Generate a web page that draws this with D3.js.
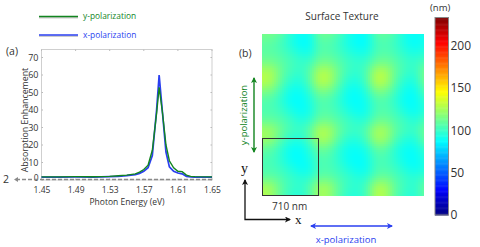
<!DOCTYPE html>
<html>
<head>
<meta charset="utf-8">
<style>
html, body { margin: 0; padding: 0; background: #fff; }
svg { display: block; }
text { font-family: "Open Sans", sans-serif; fill: #333; }
</style>
<script src="https://cdn.jsdelivr.net/npm/d3@7"></script>
</head>
<body>
<svg id="chart" width="480" height="247"></svg>
<script>
// Spectrum values
var energy = [1.45, 1.47, 1.49, 1.51, 1.53, 1.54, 1.55, 1.56, 1.565, 1.57, 1.575, 1.58, 1.585, 1.588, 1.592, 1.596, 1.60, 1.605, 1.61, 1.615, 1.62, 1.625, 1.63, 1.65];
var yPol = [1.8, 1.8, 1.9, 1.9, 2.1, 2.4, 2.8, 3.5, 4.5, 6, 8.5, 17, 38, 53, 38, 20, 11, 7, 5, 4.8, 2.8, 2.1, 1.9, 1.8];
var xPol = [1.6, 1.6, 1.7, 1.7, 1.9, 2.1, 2.5, 3.1, 3.8, 5, 7, 14, 40, 60, 38, 16, 7.5, 5, 4, 3.5, 2, 1.7, 1.6, 1.6];
var energyTicks = [1.45, 1.49, 1.53, 1.57, 1.61, 1.65];
var enhanceTicks = [0, 10, 20, 30, 40, 50, 60, 70];

// Surface height (nm), 18 x 18 samples, top row first
var texture = [
  [114, 114, 108,  96,  89,  90, 112, 112, 105,  94,  88,  89, 108, 110, 103,  92,  88,  92],
  [109, 108, 102,  94,  87,  87, 106, 106, 100,  92,  87,  87, 103, 105, 100,  92,  87,  91],
  [108, 108, 105, 100,  94,  92, 107, 107, 103,  97,  93,  93, 105, 107, 103,  97,  93,  97],
  [114, 114, 109, 104, 100, 101, 114, 114, 108, 102,  99, 101, 112, 114, 108, 102,  99, 105],
  [128, 127, 111, 102,  98, 107, 129, 128, 112, 101,  97, 106, 130, 128, 110, 101,  97, 114],
  [130, 127, 108,  97,  94, 106, 130, 128, 109,  96,  93, 105, 131, 128, 107,  95,  93, 112],
  [116, 114, 101,  90,  89,  98, 116, 114, 102,  90,  88,  97, 116, 114, 101,  90,  88, 104],
  [106, 105,  97,  88,  87,  93, 106, 105,  98,  89,  87,  92, 105, 105,  97,  88,  87,  97],
  [105, 105, 101,  93,  88,  91, 106, 106, 101,  94,  88,  91, 105, 106, 101,  92,  88,  95],
  [109, 109, 106, 101,  94,  97, 111, 111, 106, 101,  96,  97, 110, 111, 105, 101,  94, 103],
  [124, 123, 111, 103, 100, 108, 128, 126, 111, 103, 100, 107, 126, 124, 109, 102, 100, 111],
  [125, 122, 107,  97,  95, 106, 128, 125, 107,  97,  95, 105, 126, 123, 105,  96,  94, 110],
  [110, 108,  98,  89,  88,  96, 113, 110,  98,  90,  89,  94, 110, 108,  96,  89,  89,  98],
  [105, 104,  97,  88,  87,  93, 106, 105,  97,  89,  87,  91, 104, 104,  96,  89,  87,  95],
  [104, 104, 100,  94,  88,  89, 105, 104, 100,  93,  88,  89, 104, 104, 100,  93,  88,  93],
  [108, 109, 105, 100,  96,  96, 109, 109, 104, 100,  95,  96, 109, 111, 105, 100,  96, 101],
  [126, 124, 109, 101,  98, 106, 126, 124, 109, 100,  97, 105, 128, 126, 109, 101,  97, 110],
  [128, 124, 107,  98,  95, 104, 126, 123, 107,  97,  95, 103, 130, 126, 107,  98,  95, 108]
];

// Colour bar
var barTicks = [0, 50, 100, 150, 200];
var barMax = 233;
var jetStops = [0, 0.11, 0.125, 0.375, 0.625, 0.875, 1];
var jetColors = ["#00007f", "#0000e6", "#0000ff", "#00ffff", "#ffff00", "#ff0000", "#7f0000"];

var svg = d3.select("#chart");

// ---- panel (a)
var x = d3.scaleLinear().domain([1.45, 1.65]).range([41.5, 212]);
var y = d3.scaleLinear().domain([0, 70]).range([180, 57.5]);
var plotTop = 49.5;

var frame = svg.append("g");
frame.append("rect")
    .attr("x", x(1.45))
    .attr("y", plotTop)
    .attr("width", x(1.65) - x(1.45))
    .attr("height", y(0) - plotTop)
    .attr("fill", "none")
    .attr("stroke", "#cfcfcf");

var axisBottom = svg.append("g")
    .attr("transform", "translate(0," + y(0) + ")")
    .call(d3.axisBottom(x).tickValues(energyTicks).tickFormat(d3.format(".2f")).tickSize(0).tickPadding(6.5));
var axisLeft = svg.append("g")
    .attr("transform", "translate(" + x(1.45) + ",0)")
    .call(d3.axisLeft(y).tickValues(enhanceTicks).tickSize(0).tickPadding(3));
axisBottom.select(".domain").remove();
axisLeft.select(".domain").remove();
axisBottom.selectAll("text").style("font-size", "8.5px").attr("fill", "#333");
axisLeft.selectAll("text").style("font-size", "9px").attr("fill", "#333");
// the bottom label sits just above the x tick labels
axisLeft.selectAll("text").filter(d => d === 0).attr("dy", "0.1em").style("font-size", "8.5px");

// small inward ticks on all four sides of the frame
frame.selectAll(".tx").data(energyTicks).enter().append("path")
    .attr("d", d => "M" + x(d) + "," + plotTop + "v1.5M" + x(d) + "," + y(0) + "v-1.5")
    .attr("stroke", "#bbb");
frame.selectAll(".ty").data(enhanceTicks).enter().append("path")
    .attr("d", d => "M" + x(1.45) + "," + y(d) + "h1.5M" + x(1.65) + "," + y(d) + "h-1.5")
    .attr("stroke", "#bbb");

var line = d3.line().x((d, i) => x(energy[i])).y(d => y(d));

svg.append("path").datum(xPol)
    .attr("d", line)
    .attr("fill", "none")
    .attr("stroke", "#2a3ff0")
    .attr("stroke-width", 1.7);
svg.append("path").datum(yPol)
    .attr("d", line)
    .attr("fill", "none")
    .attr("stroke", "#12851f")
    .attr("stroke-width", 1.4);

// dashed marker for the value 2
svg.append("line")
    .attr("x1", 16).attr("x2", 212)
    .attr("y1", 179.5).attr("y2", 179.5)
    .attr("stroke", "#8a8a8a")
    .attr("stroke-width", 1.3)
    .attr("stroke-dasharray", "4 2");
svg.append("path")
    .attr("d", "M14,179.5l4,-2.5v5z")
    .attr("fill", "#8a8a8a");
svg.append("text").attr("x", 3).attr("y", 183).style("font-size", "10.5px").text("2");

svg.append("text")
    .attr("x", 127).attr("y", 204.5)
    .attr("text-anchor", "middle")
    .style("font-size", "8.5px")
    .text("Photon Energy (eV)");
svg.append("text")
    .attr("transform", "translate(27.5,120) rotate(-90)")
    .attr("text-anchor", "middle")
    .style("font-size", "8.8px")
    .text("Absorption Enhancement");
svg.append("text").attr("x", 6).attr("y", 55).style("font-size", "10.5px").text("(a)");

// legend
var legendItems = [
    {label: "y-polarization", color: "#12851f", y: 16.5},
    {label: "x-polarization", color: "#2a3ff0", y: 35}
];
var legend = svg.selectAll(".legend").data(legendItems).enter().append("g");
legend.append("line")
    .attr("x1", 39).attr("x2", 78)
    .attr("y1", d => d.y + 1.2).attr("y2", d => d.y + 1.2)
    .attr("stroke", "#ccc").attr("stroke-width", 1.5);
legend.append("line")
    .attr("x1", 39).attr("x2", 78)
    .attr("y1", d => d.y).attr("y2", d => d.y)
    .attr("stroke", d => d.color).attr("stroke-width", 1.5);
legend.append("text")
    .attr("x", 83).attr("y", d => d.y + 2.5)
    .style("font-size", "8.4px")
    .style("fill", d => d.color)
    .text(d => d.label);

// ---- panel (b)
var jet = d3.scaleLinear()
    .domain(jetStops.map(d => d * barMax))
    .range(jetColors)
    .clamp(true);

// smooth the samples with basis splines, along each row and then down the column
var rowSplines = texture.map(r => d3.interpolateBasis(r));
var step = 2;
var px = d3.scaleLinear().domain([0, 1]).range([262, 424]);
var py = d3.scaleLinear().domain([0, 1]).range([34, 196]);
var fine = [];
d3.range(0, 162, step).forEach(function(i) {
    var colSpline = d3.interpolateBasis(rowSplines.map(f => f((i + step / 2) / 162)));
    d3.range(0, 162, step).forEach(function(j) {
        fine.push({u: i / 162, v: j / 162, value: colSpline((j + step / 2) / 162)});
    });
});

svg.append("g").selectAll("rect").data(fine).enter().append("rect")
    .attr("x", d => px(d.u))
    .attr("y", d => py(d.v))
    .attr("width", step)
    .attr("height", step)
    .attr("shape-rendering", "crispEdges")
    .attr("fill", d => jet(d.value));

// unit cell box
svg.append("rect")
    .attr("x", 262.5).attr("y", 138.5)
    .attr("width", 56).attr("height", 57)
    .attr("fill", "none")
    .attr("stroke", "#333")
    .attr("stroke-width", 1);

svg.append("text")
    .attr("x", 342).attr("y", 19.5)
    .attr("text-anchor", "middle")
    .style("font-size", "10px")
    .text("Surface Texture");
svg.append("text").attr("x", 239).attr("y", 57).style("font-size", "10.5px").text("(b)");
svg.append("text").attr("x", 430).attr("y", 11).style("font-size", "9.5px").text("(nm)");

// colour bar
var cy = d3.scaleLinear().domain([0, barMax]).range([215, 17.5]);
svg.append("g").selectAll("rect").data(d3.range(0, barMax, 1)).enter().append("rect")
    .attr("x", 435)
    .attr("y", d => cy(d + 1))
    .attr("width", 13.5)
    .attr("height", cy(0) - cy(1) + 0.5)
    .attr("fill", d => jet(d + 0.5));
svg.append("rect")
    .attr("x", 435).attr("y", cy(barMax))
    .attr("width", 13.5).attr("height", cy(0) - cy(barMax))
    .attr("fill", "none")
    .attr("stroke", "#888");
var barAxis = svg.append("g")
    .attr("transform", "translate(448.5,0)")
    .call(d3.axisRight(cy).tickValues(barTicks).tickSize(0).tickPadding(2));
barAxis.select(".domain").remove();
barAxis.selectAll("text").style("font-size", "12px").attr("fill", "#333");

// arrows
var defs = svg.append("defs");
[["green-head", "#12851f"], ["blue-head", "#2a3ff0"], ["black-head", "#111"]].forEach(function(m) {
    defs.append("marker")
        .attr("id", m[0])
        .attr("viewBox", "0 0 6 6")
        .attr("refX", 5).attr("refY", 3)
        .attr("markerWidth", 6).attr("markerHeight", 6)
        .attr("markerUnits", "userSpaceOnUse")
        .attr("orient", "auto-start-reverse")
        .append("path")
            .attr("d", "M0,0L6,3L0,6L1.5,3z")
            .attr("fill", m[1]);
});

svg.append("line")
    .attr("x1", 254).attr("x2", 254)
    .attr("y1", 78).attr("y2", 152)
    .attr("stroke", "#12851f").attr("stroke-width", 1.4)
    .attr("marker-start", "url(#green-head)")
    .attr("marker-end", "url(#green-head)");
svg.append("text")
    .attr("transform", "translate(246.5,115) rotate(-90)")
    .attr("text-anchor", "middle")
    .style("font-size", "9.5px")
    .style("fill", "#12851f")
    .text("y-polarization");

svg.append("line")
    .attr("x1", 311).attr("x2", 392)
    .attr("y1", 226).attr("y2", 226)
    .attr("stroke", "#2a3ff0").attr("stroke-width", 1.4)
    .attr("marker-start", "url(#blue-head)")
    .attr("marker-end", "url(#blue-head)");
svg.append("text")
    .attr("x", 346).attr("y", 243)
    .attr("text-anchor", "middle")
    .style("font-size", "9.5px")
    .style("fill", "#2a3ff0")
    .text("x-polarization");

svg.append("path")
    .attr("d", "M245,180V219.5H290")
    .attr("fill", "none")
    .attr("stroke", "#111")
    .attr("stroke-width", 1.3)
    .attr("marker-start", "url(#black-head)")
    .attr("marker-end", "url(#black-head)");
svg.append("text")
    .attr("x", 241).attr("y", 173)
    .style("font-family", "'Liberation Serif', serif")
    .style("font-size", "14px")
    .style("fill", "#111")
    .text("y");
svg.append("text")
    .attr("x", 295).attr("y", 223.5)
    .style("font-family", "'Liberation Serif', serif")
    .style("font-size", "13px")
    .style("fill", "#111")
    .text("x");
svg.append("text")
    .attr("x", 272).attr("y", 210)
    .style("font-size", "10px")
    .text("710 nm");
</script>
</body>
</html>
